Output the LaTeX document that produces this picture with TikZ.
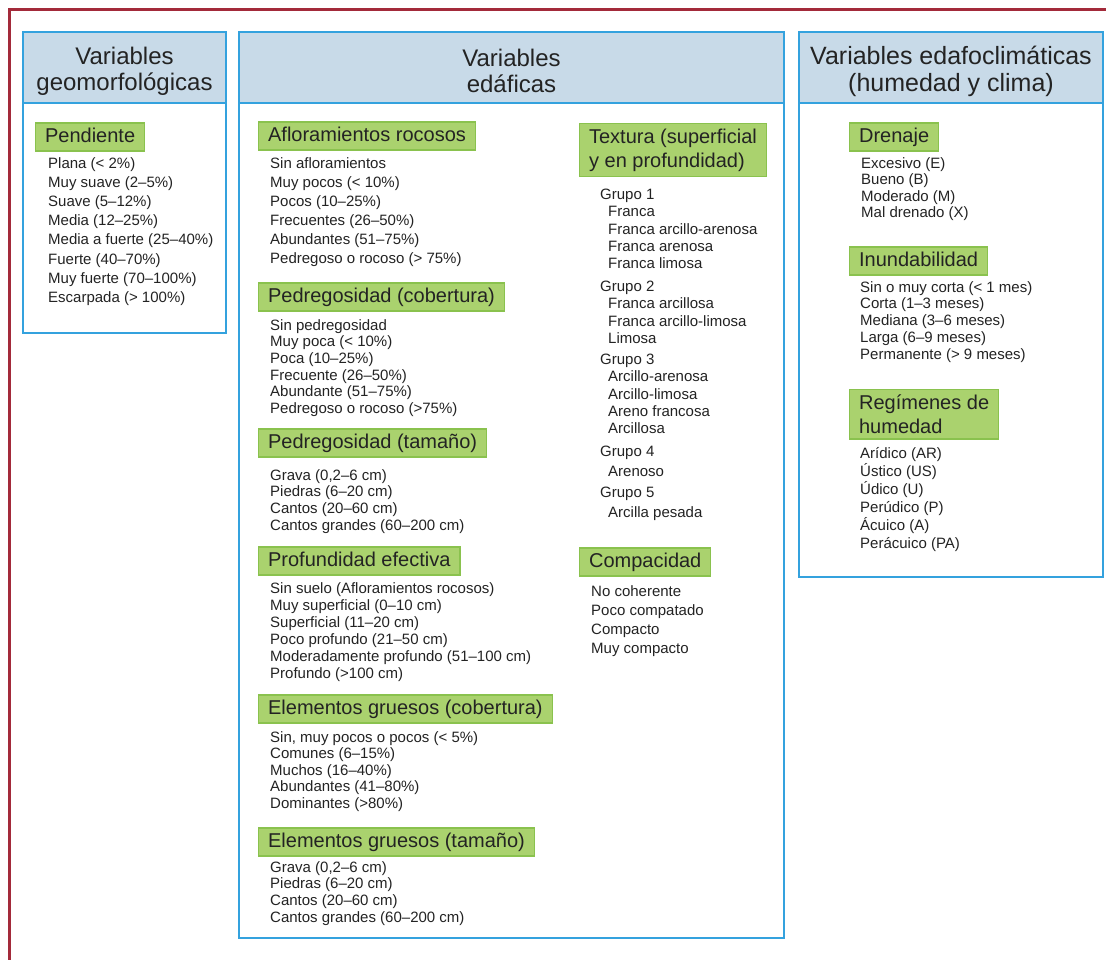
\documentclass[tikz,border=0pt]{standalone}
\usepackage{fontspec}
\setmainfont{Liberation Sans}
\definecolor{frameRed}{RGB}{163,42,58}
\definecolor{headBlue}{RGB}{200,218,232}
\definecolor{lineBlue}{RGB}{52,162,222}
\definecolor{labGreen}{RGB}{170,210,110}
\definecolor{labEdge}{RGB}{138,194,78}
\definecolor{txt}{RGB}{35,35,35}
\tikzset{
	frameline/.style={draw=frameRed, line width=3pt},
	colbox/.style={draw=lineBlue, line width=1.8pt, fill=white},
	colhead/.style={draw=lineBlue, line width=1.8pt, fill=headBlue},
	headtxt/.style={align=center, text=txt, inner sep=0pt, font=\fontsize{24}{26}\selectfont},
	lab/.style={anchor=west, fill=labGreen, draw=labEdge, line width=1.2pt, inner xsep=9.5pt, inner ysep=3pt,
		minimum height=28pt, text=txt, text height=14.5pt, text depth=4pt, font=\fontsize{20}{24}\selectfont},
	labtwo/.style={anchor=north west, align=left, fill=labGreen, draw=labEdge, line width=1.2pt, inner xsep=9.5pt,
		inner ysep=5pt, text=txt, font=\fontsize{20}{24.5}\selectfont},
	items/.style={anchor=north west, align=left, inner sep=0pt, text=txt, font=\fontsize{15}{#1}\selectfont,
		execute at begin node={\rule{0pt}{11pt}}},
	items/.default=17
}

\begin{document}
\begin{tikzpicture}[x=1pt, y=-1pt]
			%%%%% START %%%%%
			\useasboundingbox (0,0) rectangle (1106,960);
			
			\draw[frameline] (9,960) -- (9,10) -- (1106,10);
			
			% geomorfologicas
			\draw[colbox] (23,32) rectangle (226,333);
			\draw[colhead] (23,32) rectangle (226,103);
			\node[headtxt] (geoHead) at (124.5,71) {Variables\\geomorfológicas};
			
			\node[lab] (pend) at (35,137) {Pendiente};
			\node[items=19.2] (pendList) at (48,157) {Plana (< 2\%)\\Muy suave (2–5\%)\\Suave (5–12\%)\\Media (12–25\%)\\Media a fuerte (25–40\%)\\Fuerte (40–70\%)\\Muy fuerte (70–100\%)\\Escarpada (> 100\%)};
			
			% edaficas
			\draw[colbox] (239,32) rectangle (784,938);
			\draw[colhead] (239,32) rectangle (784,103);
			\node[headtxt] (edaHead) at (511.5,71) {Variables\\edáficas};
			
			\node[lab] (aflo) at (258,136) {Afloramientos rocosos};
			\node[items=19] (afloList) at (270,157) {Sin afloramientos\\Muy pocos (< 10\%)\\Pocos (10–25\%)\\Frecuentes (26–50\%)\\Abundantes (51–75\%)\\Pedregoso o rocoso (> 75\%)};
			
			\node[lab] (pcob) at (258,297) {Pedregosidad (cobertura)};
			\node[items=16.7] (pcobList) at (270,319) {Sin pedregosidad\\Muy poca (< 10\%)\\Poca (10–25\%)\\Frecuente (26–50\%)\\Abundante (51–75\%)\\Pedregoso o rocoso (>75\%)};
			
			\node[lab] (ptam) at (258,443) {Pedregosidad (tamaño)};
			\node[items=16.8] (ptamList) at (270,469) {Grava (0,2–6 cm)\\Piedras (6–20 cm)\\Cantos (20–60 cm)\\Cantos grandes (60–200 cm)};
			
			\node[lab] (prof) at (258,561) {Profundidad efectiva};
			\node[items=17] (profList) at (270,582) {Sin suelo (Afloramientos rocosos)\\Muy superficial (0–10 cm)\\Superficial (11–20 cm)\\Poco profundo (21–50 cm)\\Moderadamente profundo (51–100 cm)\\Profundo (>100 cm)};
			
			\node[lab] (ecob) at (258,709) {Elementos gruesos (cobertura)};
			\node[items=16.6] (ecobList) at (270,731) {Sin, muy pocos o pocos (< 5\%)\\Comunes (6–15\%)\\Muchos (16–40\%)\\Abundantes (41–80\%)\\Dominantes (>80\%)};
			
			\node[lab] (etam) at (258,842) {Elementos gruesos (tamaño)};
			\node[items=16.7] (etamList) at (270,861) {Grava (0,2–6 cm)\\Piedras (6–20 cm)\\Cantos (20–60 cm)\\Cantos grandes (60–200 cm)};
			
			\node[labtwo] (text) at (579,123) {Textura (superficial\\y en profundidad)};
			\node[items=17.3] (grupoA) at (600,189) {Grupo 1\\\hspace*{8pt}Franca\\\hspace*{8pt}Franca arcillo-arenosa\\\hspace*{8pt}Franca arenosa\\\hspace*{8pt}Franca limosa};
			\node[items=17.3] (grupoB) at (600,281) {Grupo 2\\\hspace*{8pt}Franca arcillosa\\\hspace*{8pt}Franca arcillo-limosa\\\hspace*{8pt}Limosa};
			\node[items=17.3] (grupoC) at (600,354) {Grupo 3\\\hspace*{8pt}Arcillo-arenosa\\\hspace*{8pt}Arcillo-limosa\\\hspace*{8pt}Areno francosa\\\hspace*{8pt}Arcillosa};
			\node[items=19.5] (grupoD) at (600,446) {Grupo 4\\\hspace*{8pt}Arenoso};
			\node[items=20] (grupoE) at (600,487) {Grupo 5\\\hspace*{8pt}Arcilla pesada};
			
			\node[lab] (comp) at (579,562) {Compacidad};
			\node[items=19] (compList) at (591,585) {No coherente\\Poco compatado\\Compacto\\Muy compacto};
			
			% edafoclimaticas
			\draw[colbox] (799,32) rectangle (1103,577);
			\draw[colhead] (799,32) rectangle (1103,103);
			\node[headtxt, font=\fontsize{25}{27}\selectfont] (climHead) at (951,71) {Variables edafoclimáticas\\(humedad y clima)};
			
			\node[lab] (dren) at (849,137) {Drenaje};
			\node[items=16.5] (drenList) at (861,157) {Excesivo (E)\\Bueno (B)\\Moderado (M)\\Mal drenado (X)};
			
			\node[lab] (inun) at (849,261) {Inundabilidad};
			\node[items=16.8] (inunList) at (860,281) {Sin o muy corta (< 1 mes)\\Corta (1–3 meses)\\Mediana (3–6 meses)\\Larga (6–9 meses)\\Permanente (> 9 meses)};
			
			\node[labtwo] (regi) at (849,389) {Regímenes de\\humedad};
			\node[items=18] (regiList) at (860,447) {Arídico (AR)\\Ústico (US)\\Údico (U)\\Perúdico (P)\\Ácuico (A)\\Perácuico (PA)};
			
			%%%%% END %%%%%
\end{tikzpicture}
\end{document}
